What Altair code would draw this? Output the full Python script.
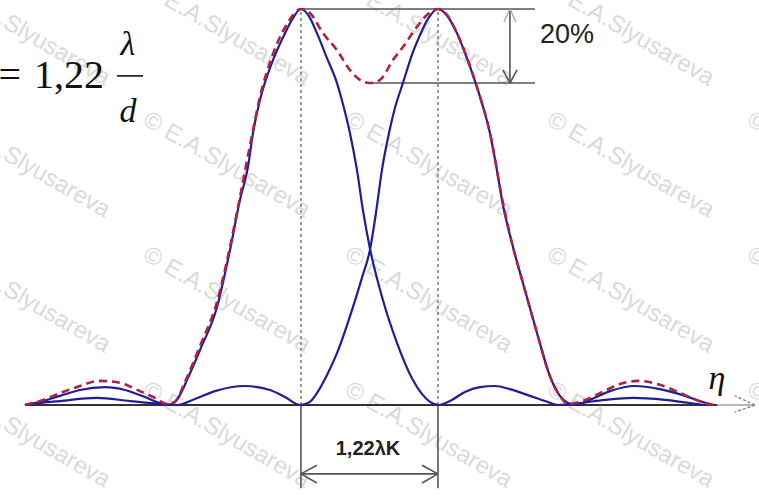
import altair as alt
import pandas as pd

# ---- data (eta in units of lambda*K, I normalised intensity) ----
eta_c1 = [-3.068, -2.934, -2.756, -2.578, -2.355, -2.177, -1.999, -1.866, -1.794, -1.732,
          -1.688, -1.625, -1.509, -1.358, -1.242, -1.153, -1.082, -1.037, -0.975, -0.859,
          -0.752, -0.681, -0.610, -0.539, -0.468, -0.378, -0.289, -0.227, -0.174, -0.111,
          -0.058, 0.004, 0.120, 0.245, 0.387, 0.539, 0.619, 0.717, 0.850, 0.984,
          1.118, 1.251, 1.429, 1.563, 1.679, 1.875, 2.097, 2.346, 2.631, 2.854, 2.988]
int_c1 = [0.0, 0.008, 0.023, 0.038, 0.045, 0.038, 0.020, 0.005, 0.0, 0.008,
          0.025, 0.063, 0.139, 0.247, 0.391, 0.518, 0.601, 0.687, 0.770, 0.871,
          0.939, 0.977, 1.000, 0.982, 0.939, 0.876, 0.813, 0.750, 0.687, 0.593,
          0.492, 0.396, 0.265, 0.157, 0.063, 0.008, 0.0, 0.010, 0.033, 0.045,
          0.048, 0.040, 0.023, 0.010, 0.0, 0.005, 0.013, 0.018, 0.013, 0.005, 0.0]

eta_c2 = [-3.068, -2.934, -2.756, -2.427, -2.133, -1.866, -1.714, -1.554, -1.376, -1.109,
          -0.886, -0.752, -0.619, -0.530, -0.468, -0.378, -0.289, -0.147, -0.067, 0.004,
          0.058, 0.111, 0.174, 0.227, 0.298, 0.387, 0.450, 0.521, 0.610, 0.681,
          0.779, 0.868, 0.957, 1.020, 1.073, 1.135, 1.189, 1.269, 1.367, 1.492,
          1.607, 1.696, 1.768, 1.839, 1.964, 2.142, 2.364, 2.587, 2.810, 2.943, 3.050]
int_c2 = [0.0, 0.005, 0.010, 0.018, 0.010, 0.003, 0.0, 0.015, 0.035, 0.048,
          0.038, 0.020, 0.0, 0.008, 0.030, 0.076, 0.131, 0.247, 0.321, 0.391,
          0.485, 0.593, 0.687, 0.750, 0.813, 0.891, 0.934, 0.975, 1.000, 0.987,
          0.939, 0.876, 0.803, 0.745, 0.687, 0.593, 0.505, 0.409, 0.308, 0.182,
          0.073, 0.023, 0.005, 0.0, 0.013, 0.035, 0.048, 0.040, 0.023, 0.010, 0.0]

eta_sum = [-3.068, -2.934, -2.756, -2.578, -2.400, -2.222, -2.044, -1.910, -1.803, -1.732,
           -1.643, -1.509, -1.358, -1.242, -1.153, -1.037, -0.975, -0.868, -0.735, -0.610,
           -0.530, -0.414, -0.289, -0.174, -0.085, 0.000, 0.094, 0.209, 0.298, 0.423,
           0.512, 0.610, 0.690, 0.779, 0.957, 1.073, 1.189, 1.269, 1.367, 1.492,
           1.607, 1.696, 1.768, 1.875, 2.053, 2.231, 2.391, 2.587, 2.810, 2.988, 3.077]
int_sum = [0.0, 0.010, 0.030, 0.048, 0.061, 0.056, 0.035, 0.018, 0.003, 0.008,
           0.058, 0.149, 0.260, 0.399, 0.525, 0.694, 0.778, 0.879, 0.962, 1.000,
           0.990, 0.939, 0.896, 0.846, 0.821, 0.813, 0.821, 0.871, 0.904, 0.955,
           0.985, 1.000, 0.985, 0.939, 0.803, 0.687, 0.510, 0.409, 0.308, 0.182,
           0.073, 0.023, 0.003, 0.008, 0.030, 0.053, 0.061, 0.051, 0.025, 0.005, 0.0]

peaks = [-0.61, 0.61]
dip_level = 0.813

# annotation segments (data units)
dark_x1 = [-0.610, -0.022, 1.251, 1.251, 1.251, -0.610, 0.610, -0.610, -0.610, -0.610, 0.610, 0.610]
dark_y1 = [1.000, 0.813, 1.000, 0.813, 0.813, 0.000, 0.000, -0.174, -0.174, -0.174, -0.174, -0.174]
dark_x2 = [1.474, 1.474, 1.251, 1.189, 1.314, -0.610, 0.610, 0.610, -0.468, -0.468, 0.468, 0.468]
dark_y2 = [1.000, 0.813, 0.813, 0.846, 0.846, -0.210, -0.210, -0.174, -0.152, -0.197, -0.152, -0.197]

light_x1 = [1.251, 1.251]
light_y1 = [1.000, 1.000]
light_x2 = [1.198, 1.305]
light_y2 = [0.967, 0.967]

axis_x1 = [-3.068]
axis_x2 = [3.10]
axis_tail_x1 = [3.10]
axis_tail_x2 = [3.433]
arrow_x1 = [3.433, 3.433]
arrow_y1 = [0.0, 0.0]
arrow_x2 = [3.255, 3.255]
arrow_y2 = [0.023, -0.018]

wm_x = [-3.780, -1.999, -0.200, 1.598, 3.380]
wm_y = [1.058, 0.725, 0.384, 0.043]

X_DOMAIN = [-3.290, 3.469]
Y_DOMAIN = [-0.2323, 1.0227]

xs = alt.Scale(domain=X_DOMAIN, nice=False, zero=False)
ys = alt.Scale(domain=Y_DOMAIN, nice=False, zero=False)


def X(f="x"):
    return alt.X(f"{f}:Q", scale=xs, axis=None)


def Y(f="y"):
    return alt.Y(f"{f}:Q", scale=ys, axis=None)


def segs(x1, y1, x2, y2):
    return pd.DataFrame({"x": x1, "y": y1, "x2": x2, "y2": y2})


def seg_layer(df, color, width, dash=None):
    kw = dict(color=color, strokeWidth=width)
    if dash:
        kw["strokeDash"] = dash
    return alt.Chart(df).mark_rule(**kw).encode(
        x=X("x"), y=Y("y"), x2="x2:Q", y2="y2:Q")


# watermark
wm_df = pd.DataFrame([{"x": a, "y": b} for b in wm_y for a in wm_x])
watermark = alt.Chart(wm_df).mark_text(
    text="© E.A.Slyusareva", angle=30, align="left", baseline="middle",
    fontSize=24, font="Liberation Sans", color="#dadada").encode(x=X(), y=Y())

# guide lines
dotted = seg_layer(segs(peaks, [0, 0], peaks, [1.0, 1.0]), "#7a7a7a", 1.5, [3, 3])
axis_line = seg_layer(segs(axis_x1, [0], axis_x2, [0]), "#333333", 2)
axis_tail = seg_layer(segs(axis_tail_x1, [0], axis_tail_x2, [0]), "#a0a0a0", 1.5)
axis_arrow = seg_layer(segs(arrow_x1, arrow_y1, arrow_x2, arrow_y2), "#888888", 1.5, [3, 2])
dark = seg_layer(segs(dark_x1, dark_y1, dark_x2, dark_y2), "#555555", 1.6)
light = seg_layer(segs(light_x1, light_y1, light_x2, light_y2), "#aaaaaa", 1.4)
frac_bar = seg_layer(segs([-2.249], [0.831], [-2.017], [0.831]), "#111111", 1.6)

# curves
c1 = alt.Chart(pd.DataFrame({"x": eta_c1, "y": int_c1})).mark_line(
    interpolate="monotone", color="#1e1e9c", strokeWidth=2.2).encode(x=X(), y=Y())
c2 = alt.Chart(pd.DataFrame({"x": eta_c2, "y": int_c2})).mark_line(
    interpolate="monotone", color="#1e1e9c", strokeWidth=2.2).encode(x=X(), y=Y())
csum = alt.Chart(pd.DataFrame({"x": eta_sum, "y": int_sum})).mark_line(
    interpolate="monotone", color="#b3203c", strokeWidth=2.6, strokeDash=[8, 5]).encode(x=X(), y=Y())


def txt(t, x, y, **kw):
    return alt.Chart(pd.DataFrame({"x": [x], "y": [y]})).mark_text(
        text=t, baseline="alphabetic", **kw).encode(x=X(), y=Y())


t_eq = txt("=", -3.103, 0.801, align="right", fontSize=40, font="Liberation Serif", color="#111")
t_num = txt("1,22", -2.364, 0.801, align="right", fontSize=40, font="Liberation Serif", color="#111")
t_lam = txt("λ", -2.151, 0.884, align="center", fontSize=34, font="Liberation Serif",
            fontStyle="italic", color="#111")
t_d = txt("d", -2.151, 0.715, align="center", fontSize=34, font="Liberation Serif",
          fontStyle="italic", color="#111")
t_eta = txt("η", 3.094, 0.040, align="center", fontSize=34, font="Liberation Serif",
            fontStyle="italic", color="#111")
t_20 = txt("20%", 1.759, 0.914, align="center", fontSize=27, font="Liberation Sans", color="#222")
t_sep = txt("1,22λK", -0.013, -0.126, align="center", fontSize=20, font="Liberation Sans",
            fontWeight="bold", color="#222")

chart = alt.layer(
    watermark, dotted, axis_line, axis_tail, axis_arrow, dark, light, frac_bar,
    c1, c2, csum, t_eq, t_num, t_lam, t_d, t_eta, t_20, t_sep
).properties(
    width=759, height=497, padding=0,
    autosize=alt.AutoSizeParams(type="none"), background="white"
).configure_view(stroke=None)

chart.save("out.html", embed_options={"renderer": "svg", "actions": False})
